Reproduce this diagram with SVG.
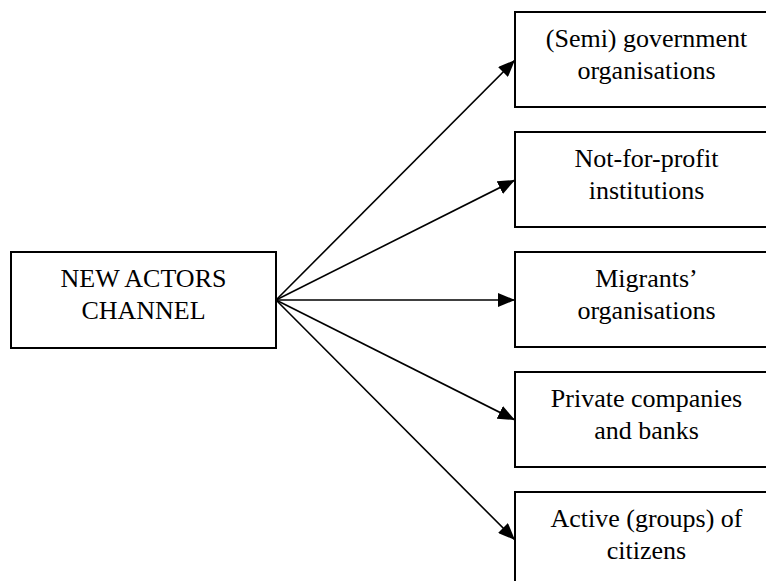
<svg xmlns="http://www.w3.org/2000/svg" width="766" height="581" viewBox="0 0 766 581">
<defs>
<style>
.box{fill:#fff;stroke:#000;stroke-width:2}
.t{font-size:26px;fill:#000;text-anchor:middle}
.c{stroke:#000;stroke-width:1.6;fill:none;marker-end:url(#ah)}
</style>
<marker id="ah" markerUnits="userSpaceOnUse" markerWidth="18" markerHeight="14" refX="17" refY="7" orient="auto">
<path d="M0,0 L17,7 L0,14 Z" fill="#000"/>
</marker>
</defs>
<rect width="766" height="581" fill="#fff"/>
<g id="connectors">
<line class="c" x1="276" y1="300" x2="515" y2="60"/>
<line class="c" x1="276" y1="300" x2="515" y2="180"/>
<line class="c" x1="276" y1="300" x2="515" y2="300"/>
<line class="c" x1="276" y1="300" x2="515" y2="420"/>
<line class="c" x1="276" y1="300" x2="515" y2="540"/>
</g>
<g font-family="Liberation Serif, DejaVu Serif, serif">
<g id="new-actors">
<rect class="box" x="11" y="252" width="265" height="96"/>
<text class="t" x="143.5" y="287">NEW ACTORS</text>
<text class="t" x="143.5" y="319">CHANNEL</text>
</g>
<g id="gov">
<rect class="box" x="515" y="12" width="265" height="95"/>
<text class="t" x="646.5" y="47">(Semi) government</text>
<text class="t" x="646.5" y="79">organisations</text>
</g>
<g id="nfp">
<rect class="box" x="515" y="132" width="265" height="95"/>
<text class="t" x="646.5" y="167">Not-for-profit</text>
<text class="t" x="646.5" y="199">institutions</text>
</g>
<g id="migrants">
<rect class="box" x="515" y="252" width="265" height="95"/>
<text class="t" x="646.5" y="287">Migrants’</text>
<text class="t" x="646.5" y="319">organisations</text>
</g>
<g id="private">
<rect class="box" x="515" y="372" width="265" height="95"/>
<text class="t" x="646.5" y="407">Private companies</text>
<text class="t" x="646.5" y="439">and banks</text>
</g>
<g id="citizens">
<rect class="box" x="515" y="492" width="265" height="95"/>
<text class="t" x="646.5" y="527">Active (groups) of</text>
<text class="t" x="646.5" y="559">citizens</text>
</g>
</g>
</svg>
